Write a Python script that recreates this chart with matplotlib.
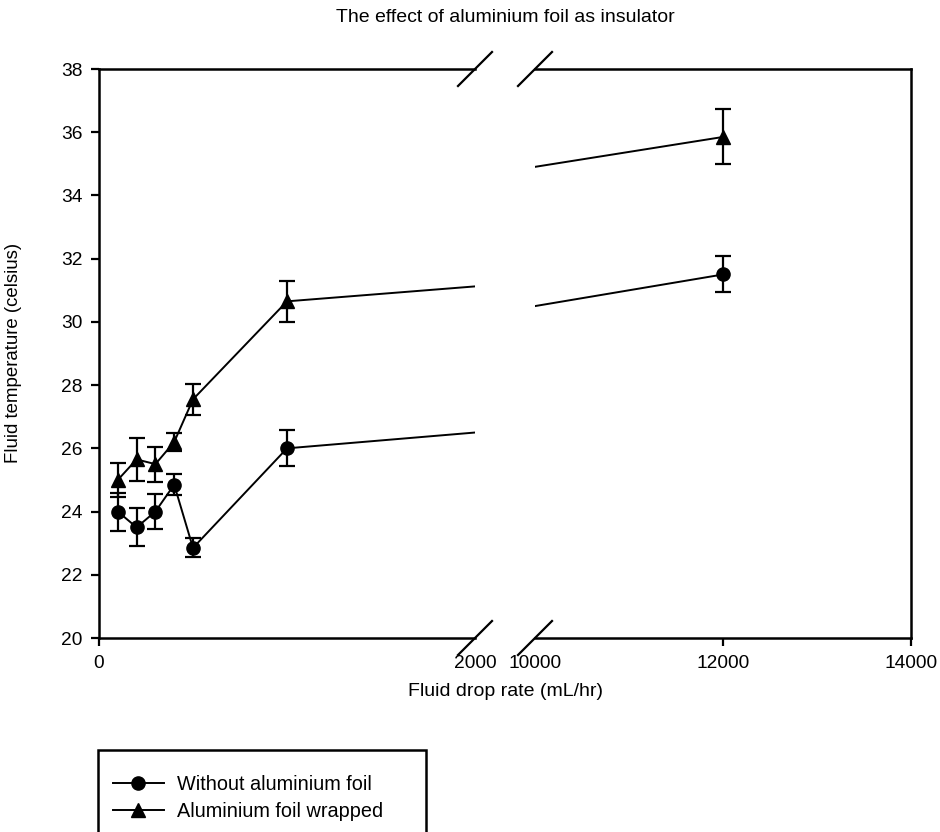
"""Broken x-axis plot: fluid temperature vs drop rate, with and without foil.
"""
import matplotlib
matplotlib.use('Agg')
import matplotlib.pyplot as plt
from matplotlib.patches import Rectangle

plt.rcParams['font.family'] = ['Liberation Sans', 'DejaVu Sans']

# data
drop_rate = [100, 200, 300, 400, 500, 1000, 12000]
temp_plain = [24.0, 23.5, 24.0, 24.85, 22.85, 26.0, 31.5]
err_plain = [0.6, 0.6, 0.55, 0.33, 0.3, 0.57, 0.57]
temp_foil = [25.0, 25.65, 25.5, 26.2, 27.55, 30.65, 35.85]
err_foil = [0.55, 0.67, 0.55, 0.3, 0.5, 0.65, 0.87]

label_plain = 'Without aluminium foil'
label_foil = 'Aluminium foil wrapped'

left_xlim = (0, 2000)
right_xlim = (10000, 14000)
left_xticks = [0, 2000]
right_xticks = [10000, 12000, 14000]
yticks = [20, 22, 24, 26, 28, 30, 32, 34, 36, 38]

W, H = 940, 832
fig = plt.figure(figsize=(W / 100, H / 100), dpi=100)

ax_l = fig.add_axes([99 / W, 1 - 638 / H, 376 / W, 569 / H])
ax_r = fig.add_axes([535 / W, 1 - 638 / H, 376 / W, 569 / H], sharey=ax_l)

style = dict(color='black', lw=1.4, elinewidth=1.6, capsize=6, capthick=1.6)
handles = []
for ax in (ax_l, ax_r):
    e1 = ax.errorbar(drop_rate, temp_plain, yerr=err_plain, marker='o',
                     ms=9.5, **style)
    e2 = ax.errorbar(drop_rate, temp_foil, yerr=err_foil, marker='^',
                     ms=10.5, **style)
    handles = [e1.lines[0], e2.lines[0]]
    for s in ax.spines.values():
        s.set_linewidth(1.8)
    ax.tick_params(direction='out', length=6, width=1.6, labelsize=13.8,
                   pad=6)

ax_l.set_xlim(*left_xlim)
ax_r.set_xlim(*right_xlim)
ax_l.set_ylim(20, 38)
ax_l.set_xticks(left_xticks)
ax_r.set_xticks(right_xticks)
ax_l.set_yticks(yticks)

ax_l.spines['right'].set_visible(False)
ax_r.spines['left'].set_visible(False)
ax_r.tick_params(axis='y', left=False, labelleft=False)
# no tick marks where the axis is broken
ax_l.xaxis.get_major_ticks()[1].tick1line.set_visible(False)
ax_r.xaxis.get_major_ticks()[0].tick1line.set_visible(False)

# break marks
dx = 17 / 376
dy = 17 / 569
for ax, x0 in ((ax_l, 1), (ax_r, 0)):
    for y0 in (0, 1):
        ax.plot([x0 - dx, x0 + dx], [y0 - dy, y0 + dy], color='black',
                lw=1.6, transform=ax.transAxes, clip_on=False)

fig.text(505 / W, 1 - 18 / H, 'The effect of aluminium foil as insulator',
         ha='center', va='center', fontsize=14)
fig.text(505 / W, 1 - 692 / H, 'Fluid drop rate (mL/hr)',
         ha='center', va='center', fontsize=14)
fig.text(14 / W, 1 - 353 / H, 'Fluid temperature (celsius)',
         ha='center', va='center', rotation=90, fontsize=13.4)

# legend box runs off the bottom edge as in the reference
fig.patches.append(Rectangle((98 / W, -10 / H), 328 / W, (832 - 750 + 10) / H,
                             transform=fig.transFigure, fill=False,
                             edgecolor='black', lw=1.8))
leg = fig.legend(handles, [label_plain, label_foil], loc='upper left',
                 bbox_to_anchor=(113 / W, 1 - 775 / H), fontsize=14.3,
                 frameon=False, handlelength=2.55, borderpad=0,
                 labelspacing=0.4, borderaxespad=0, handletextpad=0.65)

fig.savefig('out.png', dpi=100)
